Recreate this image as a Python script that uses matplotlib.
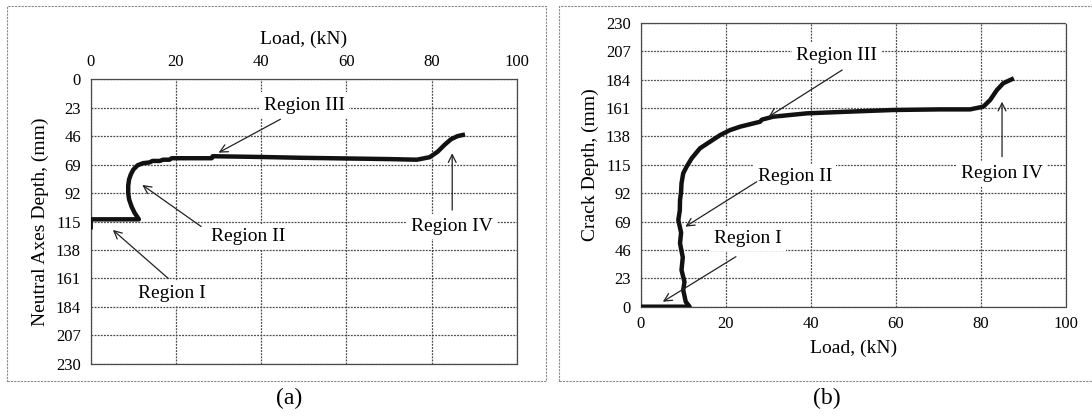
import matplotlib
matplotlib.use("Agg")
import matplotlib.pyplot as plt
from matplotlib.patches import Rectangle

plt.rcParams['font.family'] = ['Liberation Serif', 'DejaVu Serif']

# (a) neutral axis depth vs load
load_a = [0.0, 0.0, 11.3, 10.3, 9.6, 9.0, 8.8, 8.8, 9.0, 9.4, 10.0, 11.0, 12.3,
          13.8, 14.5, 16.2, 17.0, 18.5, 19.0, 28.4, 28.6, 40.0, 50.0, 60.0,
          70.0, 76.5, 79.5, 81.4, 83.0, 84.5, 86.0, 87.3]
depth_a = [119.6, 113.2, 113.2, 108.0, 103.0, 97.0, 92.0, 86.0, 81.0, 77.0,
           73.0, 69.5, 67.8, 67.2, 66.0, 66.0, 65.0, 65.0, 63.8, 63.8, 62.2,
           62.8, 63.5, 64.0, 64.5, 65.0, 63.0, 58.5, 53.0, 48.5, 46.0, 45.0]

# (b) crack depth vs load
load_b = [0.0, 11.5, 10.6, 10.0, 10.3, 9.6, 9.9, 9.25, 9.5, 8.85, 9.2, 9.25,
          9.5, 9.6, 10.0, 10.8, 12.0, 13.95, 16.3, 18.7, 21.0, 23.4, 28.1,
          28.5, 31.2, 39.1, 48.5, 59.4, 70.4, 77.5, 80.6, 82.2, 83.8, 85.3, 87.3]
crack_b = [0.0, 0.0, 4.0, 13.5, 20.0, 29.7, 40.0, 51.3, 60.0, 70.2, 78.0, 86.4,
           93.0, 99.9, 108.0, 113.4, 120.2, 128.3, 133.6, 139.0, 143.0, 145.8,
           149.8, 151.5, 153.9, 156.6, 157.9, 159.3, 159.8, 159.8, 162.0, 167.4,
           175.5, 181.0, 184.2]

x_ticks = [0, 20, 40, 60, 80, 100]
y_ticks = [0, 23, 46, 69, 92, 115, 138, 161, 184, 207, 230]

regions = ['Region I', 'Region II', 'Region III', 'Region IV']
# label position, arrow tail, arrow head (data coords)
notes_a = [((19.0, 173.0), (18.2, 161.0), (5.2, 121.8)),
           ((36.9, 127.0), (25.9, 119.0), (12.1, 85.4)),
           ((50.2, 20.8), (44.5, 32.3), (30.0, 59.3)),
           ((84.8, 119.2), (84.8, 105.7), (84.8, 59.8))]
notes_b = [((25.2, 55.4), (22.4, 40.5), (5.2, 4.0)),
           ((36.3, 105.3), (27.3, 101.2), (10.5, 64.8)),
           ((46.1, 203.8), (47.4, 191.7), (30.1, 153.9)),
           ((85.0, 108.0), (85.0, 121.5), (85.0, 166.0))]

W, H = 1092, 416
fig = plt.figure(figsize=(W / 100, H / 100), dpi=100)

grid_kw = dict(color='#4a4a4a', linestyle=(0, (1.5, 1.0)), linewidth=0.9)


def frac(x0, y0, x1, y1):
    return [x0 / W, 1 - y1 / H, (x1 - x0) / W, (y1 - y0) / H]


def style(ax):
    ax.set_xlim(0, 100)
    ax.set_xticks(x_ticks)
    ax.set_yticks(y_ticks)
    ax.grid(True, **grid_kw)
    ax.set_axisbelow(True)
    ax.tick_params(length=0, labelsize=12, pad=7)
    for sp in ax.spines.values():
        sp.set_color('#4a4a4a')
        sp.set_linestyle((0, (1.5, 1.0)))
        sp.set_linewidth(0.9)


def annotate(ax, notes):
    for name, (txt, tail, head) in zip(regions, notes):
        ax.text(txt[0], txt[1], name, ha='center', va='center', fontsize=14,
                bbox=dict(facecolor='white', edgecolor='none', pad=3), zorder=4)
        ax.annotate('', xy=head, xytext=tail,
                    arrowprops=dict(arrowstyle='->', color='#222222', lw=0.9,
                                    shrinkA=0, shrinkB=0, mutation_scale=14),
                    zorder=5)


# panel (a)
ax1 = fig.add_axes(frac(90.7, 79.3, 517.0, 363.8))
style(ax1)
ax1.set_ylim(230, 0)
ax1.xaxis.tick_top()
ax1.xaxis.set_label_position('top')
ax1.plot(load_a, depth_a, color='#111111', lw=3.2, solid_joinstyle='round', zorder=3)
ax1.set_xlabel('Load, (kN)', fontsize=14, labelpad=7)
ax1.set_ylabel('Neutral Axes Depth, (mm)', fontsize=14, labelpad=5)
annotate(ax1, notes_a)

# panel (b)
ax2 = fig.add_axes(frac(640.7, 22.7, 1065.8, 306.7))
style(ax2)
ax2.set_ylim(0, 230)
ax2.plot(load_b, crack_b, color='#111111', lw=3.2, solid_joinstyle='round', zorder=3)
ax2.set_xlabel('Load, (kN)', fontsize=14, labelpad=5)
ax2.set_ylabel('Crack Depth, (mm)', fontsize=14, labelpad=5)
annotate(ax2, notes_b)

# panel frames and captions
for x0, x1 in [(7, 546), (559, 1095)]:
    fig.patches.append(Rectangle((x0 / W, 1 - 381 / H), (x1 - x0) / W, (381 - 6) / H,
                                 transform=fig.transFigure, fill=False,
                                 edgecolor='#8a8a8a', lw=0.8,
                                 linestyle=(0, (2, 1))))
fig.text(289 / W, 1 - 398 / H, '(a)', ha='center', va='center', fontsize=17)
fig.text(827 / W, 1 - 398 / H, '(b)', ha='center', va='center', fontsize=17)

fig.savefig('out.png', dpi=100)
